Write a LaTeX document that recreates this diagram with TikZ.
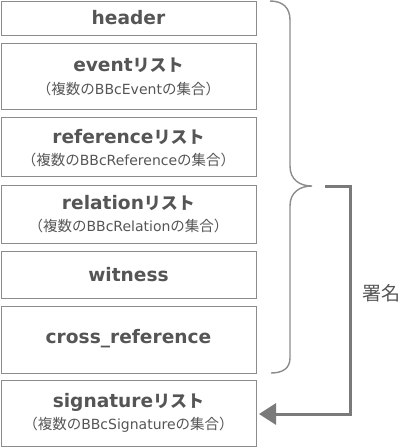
\documentclass[tikz,border=0pt]{standalone}
\usepackage{fontspec}
\setmainfont{DejaVu Sans}
\newfontfamily\jpf{Noto Sans CJK JP}
\usetikzlibrary{arrows.meta}
\definecolor{txt}{HTML}{555555}
\definecolor{frame}{HTML}{8C8C8C}
\definecolor{arr}{HTML}{7A7A7A}
\newcommand\jt[1]{{\jpf\fontsize{17}{17}\selectfont #1}}
\newcommand\js[1]{{\jpf\fontsize{14.5}{15}\selectfont #1}}
\tikzset{
  box/.style={draw=frame, line width=1.4pt, rectangle, minimum width=255pt, inner sep=0pt, anchor=north west},
  title/.style={text=txt, font=\fontsize{18.6}{20}\selectfont\bfseries, inner sep=0pt},
  sub/.style={text=txt, font=\fontsize{14}{15}\selectfont, inner sep=0pt},
  brace/.style={draw=frame, line width=1.4pt},
  arrline/.style={draw=arr, line width=3pt},
}
\begin{document}
\begin{tikzpicture}[x=1pt,y=-1pt]
\useasboundingbox (0,0) rectangle (400,448);
% boxes
\node[box, minimum height=34pt] (b1) at (1,1) {};
\node[box, minimum height=66pt] (b2) at (1,43) {};
\node[box, minimum height=59pt] (b3) at (1,117) {};
\node[box, minimum height=58pt] (b4) at (1,185) {};
\node[box, minimum height=47pt] (b5) at (1,251) {};
\node[box, minimum height=67pt] (b6) at (1,306) {};
\node[box, minimum height=66pt] (b7) at (1,380) {};
% texts
\node[title] (t1) at (128.5,18) {header};
\node[title] (t2) at (128.5,65) {event\jt{リスト}};
\node[sub] (s2) at (128.5,89) {\js{（複数の}BBcEvent\js{の集合）}};
\node[title] (t3) at (128.5,137) {reference\jt{リスト}};
\node[sub] (s3) at (128.5,160) {\js{（複数の}BBcReference\js{の集合）}};
\node[title] (t4) at (128.5,203) {relation\jt{リスト}};
\node[sub] (s4) at (128.5,226) {\js{（複数の}BBcRelation\js{の集合）}};
\node[title] (t5) at (128.5,275) {witness};
\node[title] (t6) at (128.5,339) {cross\_reference};
\node[title] (t7) at (128.5,402) {signature\jt{リスト}};
\node[sub] (s7) at (128.5,425) {\js{（複数の}BBcSignature\js{の集合）}};
% brace
\draw[brace] (270,1) .. controls (283,1) and (290,8) .. (290,20) -- (290,166)
  .. controls (290,180) and (300,186) .. (312,186)
  .. controls (300,186) and (290,192) .. (290,206) -- (290,358)
  .. controls (290,368) and (283,373) .. (271,373);
% arrow
\coordinate (as) at (325,186);
\coordinate (ac) at (350,414);
\coordinate (ae) at (259,414);
\draw[arrline, -{Triangle[length=17pt,width=21pt]}] (as) -| (ac) -- (ae);
\node[text=txt, inner sep=0pt] (lab) at (381,293) {\jpf\fontsize{19}{20}\selectfont 署名};
\end{tikzpicture}
\end{document}
